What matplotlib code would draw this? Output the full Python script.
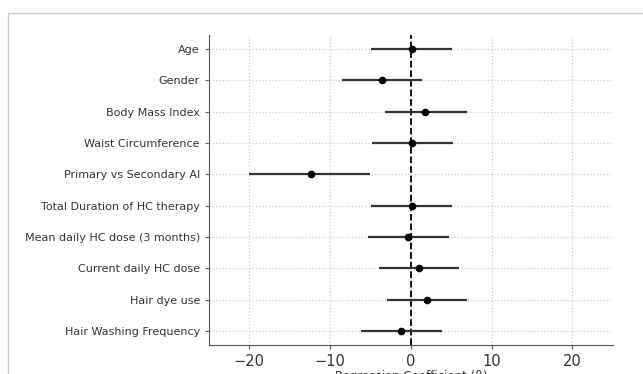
import numpy as np
import pandas as pd
from matplotlib import pyplot as plt
from matplotlib.patches import Rectangle

# regression coefficients with 95% CI
variables = ["Age", "Gender", "Body Mass Index", "Waist Circumference",
             "Primary vs Secondary AI", "Total Duration of HC therapy",
             "Mean daily HC dose (3 months)", "Current daily HC dose",
             "Hair dye use", "Hair Washing Frequency"]
beta = [0.1, -3.6, 1.8, 0.2, -12.4, 0.2, -0.3, 1.0, 2.0, -1.2]
ci_low = [-4.9, -8.5, -3.2, -4.8, -20.0, -4.9, -5.3, -4.0, -3.0, -6.2]
ci_high = [5.1, 1.4, 6.9, 5.2, -5.0, 5.1, 4.7, 6.0, 7.0, 3.8]

df = pd.DataFrame({"var": variables, "beta": beta, "lo": ci_low, "hi": ci_high})
y = np.arange(len(df))
xerr = np.array([df["beta"] - df["lo"], df["hi"] - df["beta"]])

fig = plt.figure(figsize=(6.43, 3.74), dpi=100)
ax = fig.add_axes([0.325, 0.0775, 0.628, 0.829])

# frame around the whole picture (screenshot border)
fig.patches.append(Rectangle((0.0124, -0.2), 1.2, 1.164, transform=fig.transFigure,
                             fill=False, edgecolor="#c9c9d2", lw=1.0))

ax.errorbar(df["beta"], y, xerr=xerr, fmt="o", color="black", ecolor="#333333",
            elinewidth=1.6, markersize=4.5, capsize=0, zorder=3)
ax.axvline(0, color="black", linestyle="--", lw=1.3, zorder=2)

ax.set_yticks(y)
ax.set_yticklabels(df["var"], fontsize=8, color="#333333")
ax.invert_yaxis()
ax.set_xlim(-25, 25)
ax.set_xticks([-20, -10, 0, 10, 20])
ax.tick_params(axis="x", labelsize=10.5, colors="#333333")
ax.tick_params(axis="both", color="#555555", length=3)
ax.set_xlabel("Regression Coefficient (\u03b2)", fontsize=8.5, color="#333333", labelpad=1)

ax.grid(True, linestyle=":", color="#cccccc", lw=0.9)
ax.set_axisbelow(True)
ax.spines["top"].set_visible(False)
ax.spines["right"].set_visible(False)
ax.spines["left"].set_color("#555555")
ax.spines["bottom"].set_color("#555555")

plt.savefig("out.png", dpi=100)
